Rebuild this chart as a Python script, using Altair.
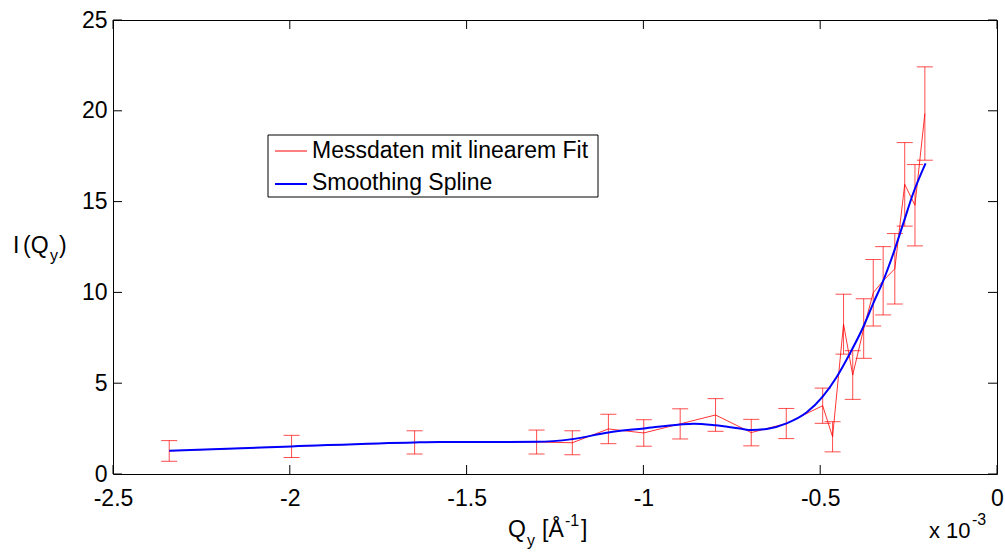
import altair as alt
import pandas as pd

# ---- data (Q_y in units of 1e-3 1/Angstrom) ----
q_meas = [-2.341, -1.995, -1.647, -1.302, -1.201, -1.099, -0.999, -0.896, -0.796,
          -0.695, -0.596, -0.493, -0.465, -0.434, -0.408, -0.377, -0.350, -0.322,
          -0.289, -0.261, -0.232, -0.204]
i_meas = [1.27, 1.52, 1.74, 1.76, 1.72, 2.48, 2.26, 2.76, 3.25,
          2.28, 2.78, 3.76, 2.05, 8.25, 5.45, 8.01, 9.98, 10.64,
          11.30, 15.95, 14.80, 19.85]
i_err = [0.57, 0.61, 0.64, 0.66, 0.66, 0.81, 0.73, 0.83, 0.90,
         0.73, 0.83, 0.97, 0.83, 1.65, 1.34, 1.64, 1.83, 1.88,
         1.94, 2.30, 2.24, 2.57]

q_spline = [-2.341, -1.995, -1.647, -1.575, -1.302, -1.201, -1.099, -0.999, -0.896,
            -0.858, -0.796, -0.727, -0.694, -0.651, -0.595, -0.538, -0.493, -0.453,
            -0.416, -0.378, -0.350, -0.321, -0.293, -0.265, -0.237, -0.202]
i_spline = [1.28, 1.52, 1.74, 1.76, 1.77, 1.92, 2.29, 2.51, 2.73,
            2.77, 2.68, 2.50, 2.42, 2.48, 2.79, 3.40, 4.26, 5.36,
            6.64, 8.11, 9.40, 10.68, 12.15, 13.80, 15.46, 17.11]

x_ticks = [-2.5, -2.0, -1.5, -1.0, -0.5, 0.0]
y_ticks = [0, 5, 10, 15, 20, 25]
legend_labels = ["Messdaten mit linearem Fit", "Smoothing Spline"]

FONT = "Liberation Sans"
W, H = 884, 454

meas = pd.DataFrame({
    "q": q_meas, "i": i_meas,
    "lo": [a - b for a, b in zip(i_meas, i_err)],
    "hi": [a + b for a, b in zip(i_meas, i_err)],
})
spl = pd.DataFrame({"q": q_spline, "i": i_spline})
xt = pd.DataFrame({"v": x_ticks})
yt = pd.DataFrame({"v": y_ticks})
one = pd.DataFrame({"k": [0]})

xs = alt.Scale(domain=[-2.5, 0], nice=False, zero=False)
ys = alt.Scale(domain=[0, 25], nice=False, zero=False)
xax = alt.Axis(values=x_ticks, labelExpr="datum.value + ''", ticks=False, domain=False,
               grid=False, labelFont=FONT, labelFontSize=23, labelColor="black",
               labelPadding=13, title=None, labelFlush=False, labelOverlap=False)
yax = alt.Axis(values=y_ticks, labelExpr="datum.value + ''", ticks=False, domain=False,
               grid=False, labelFont=FONT, labelFontSize=23, labelColor="black",
               labelPadding=6, title=None, labelFlush=False, labelOverlap=False)

def X(f):
    return alt.X(f, type="quantitative", scale=xs, axis=xax, title=None)

def Y(f):
    return alt.Y(f, type="quantitative", scale=ys, axis=yax, title=None)

RED = "#ff0000"
bars = alt.Chart(meas).mark_rule(color=RED, strokeWidth=1, opacity=0.7).encode(
    x=X("q"), y=Y("lo"), y2="hi")
cap_lo = alt.Chart(meas).mark_tick(orient="horizontal", size=16, thickness=1,
                                   color=RED, opacity=0.7).encode(x=X("q"), y=Y("lo"))
cap_hi = alt.Chart(meas).mark_tick(orient="horizontal", size=16, thickness=1,
                                   color=RED, opacity=0.7).encode(x=X("q"), y=Y("hi"))
mline = alt.Chart(meas).mark_line(color=RED, strokeWidth=0.8).encode(x=X("q"), y=Y("i"))
sline = alt.Chart(spl).mark_line(color="#0000ff", strokeWidth=2,
                                 interpolate="monotone").encode(x=X("q"), y=Y("i"))

TK = 9
tick_b = alt.Chart(xt).mark_rule(color="black", strokeWidth=1).encode(
    x=X("v"), y=alt.value(H), y2=alt.value(H - TK))
tick_t = alt.Chart(xt).mark_rule(color="black", strokeWidth=1).encode(
    x=X("v"), y=alt.value(0), y2=alt.value(TK))
tick_l = alt.Chart(yt).mark_rule(color="black", strokeWidth=1).encode(
    y=Y("v"), x=alt.value(0), x2=alt.value(TK))
tick_r = alt.Chart(yt).mark_rule(color="black", strokeWidth=1).encode(
    y=Y("v"), x=alt.value(W), x2=alt.value(W - TK))

# legend box
leg_box = alt.Chart(one).mark_rect(fill="white", stroke="black", strokeWidth=1).encode(
    x=alt.value(155), x2=alt.value(485), y=alt.value(115), y2=alt.value(177))
leg_l1 = alt.Chart(one).mark_rule(color=RED, strokeWidth=1).encode(
    x=alt.value(162), x2=alt.value(194), y=alt.value(131))
leg_l2 = alt.Chart(one).mark_rule(color="#0000ff", strokeWidth=2).encode(
    x=alt.value(162), x2=alt.value(194), y=alt.value(164))
leg_t1 = alt.Chart(one).mark_text(text=legend_labels[0], font=FONT, fontSize=23,
                                  align="left", baseline="middle", color="black").encode(
    x=alt.value(199), y=alt.value(131))
leg_t2 = alt.Chart(one).mark_text(text=legend_labels[1], font=FONT, fontSize=23,
                                  align="left", baseline="middle", color="black").encode(
    x=alt.value(199), y=alt.value(163))

def txt(s, x, y, size=23):
    return alt.Chart(one).mark_text(text=s, font=FONT, fontSize=size, align="left",
                                    baseline="alphabetic", color="black").encode(
        x=alt.value(x - 113), y=alt.value(y - 20))

# axis titles (absolute page coords converted to plot coords)
titles = [
    txt("I", 13, 253), txt("(Q", 23, 253), txt("y", 50, 261, 16), txt(")", 59, 253),
    txt("Q", 508, 537), txt("y", 527, 546, 16), txt("[Å", 542, 537),
    txt("-1", 565, 526, 16), txt("]", 581, 537),
    txt("x 10", 929, 538, 22), txt("-3", 972, 525, 16),
]

chart = alt.layer(
    bars, cap_lo, cap_hi, mline, sline,
    tick_b, tick_t, tick_l, tick_r,
    leg_box, leg_l1, leg_l2, leg_t1, leg_t2,
    *titles,
).properties(
    width=W, height=H,
    autosize=alt.AutoSizeParams(type="none"),
    padding={"left": 113, "top": 20, "right": 8, "bottom": 80},
    background="white",
).configure_view(stroke="black", strokeWidth=1)

chart.save("out.html", embed_options={"renderer": "svg", "actions": False})
